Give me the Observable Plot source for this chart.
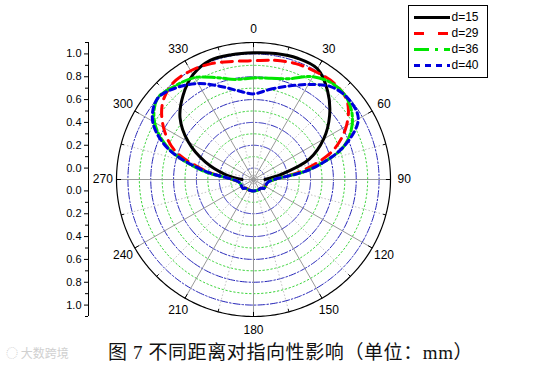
<!DOCTYPE html>
<html>
<head>
<meta charset="utf-8">
<script src="https://cdn.jsdelivr.net/npm/d3@7"></script>
<script src="https://cdn.jsdelivr.net/npm/@observablehq/plot@0.6"></script>
<style>
  html, body { margin: 0; padding: 0; background: #fff; }
  #wrap { position: relative; width: 556px; height: 365px; overflow: hidden; background: #fff; }
  #wrap > div, #wrap > svg { position: absolute; }
  #caption { left: 108px; top: 337px; font-family: "Liberation Serif", "Noto Sans CJK SC", serif; font-size: 19px; letter-spacing: 0.6px; color: #111; white-space: nowrap; }
  #mark { left: 6px; top: 344px; font-family: "Noto Sans CJK SC", sans-serif; font-size: 12px; color: #d0d0d0; white-space: nowrap; }
</style>
</head>
<body>
<div id="wrap"></div>
<script>
// ---- data ----
const angles = [0,10,20,30,40,50,60,70,80,90,100,110,120,130,140,150,160,170,180,190,200,210,220,230,240,250,260,270,280,290,300,310,320,330,340,350];
const d29 = [0.94,0.96,0.98,0.99,1.00,0.97,0.84,0.64,0.33,0.08,0.03,0.02,0.02,0.02,0.00,0.00,0.00,0.00,0.00,0.00,0.00,0.00,0.00,0.02,0.02,0.02,0.03,0.08,0.32,0.63,0.81,0.94,1.00,1.00,0.98,0.95];
const d36 = [0.79,0.80,0.84,0.94,0.99,0.98,0.90,0.74,0.39,0.08,0.03,0.02,0.02,0.02,0.00,0.00,0.00,0.00,0.00,0.00,0.00,0.00,0.00,0.02,0.02,0.02,0.03,0.08,0.36,0.69,0.90,1.00,0.97,0.93,0.85,0.79];
const d40 = [0.65,0.70,0.77,0.86,0.96,0.99,0.96,0.74,0.40,0.08,0.03,0.02,0.02,0.02,0.00,0.00,0.00,0.00,0.00,0.00,0.00,0.00,0.00,0.02,0.02,0.02,0.03,0.08,0.34,0.70,0.92,1.00,0.95,0.87,0.77,0.69];
const d15Angles = [270,280,290,300,310,320,330,340,350,0,10,20,30,40,50,60,70,80,90];
const d15 = [0.00,0.15,0.35,0.56,0.74,0.86,0.96,1.01,1.01,1.01,1.02,1.03,1.02,0.91,0.77,0.61,0.42,0.14,0.00];
const seriesNames = ["d=15","d=29","d=36","d=40"];
const angleLabels = [0,30,60,90,120,150,180,210,240,270,300,330];
const minorSpokes = [15,45,75,105,135,165,195,225,255,285,315,345];
const blueRings = [0,0.2,0.4,0.6,0.8,1.0];
const greenRings = [0.1,0.3,0.5,0.7,0.9];
const radialTicks = [0,0.2,0.4,0.6,0.8,1.0];
const radialMinor = [0.1,0.3,0.5,0.7,0.9,1.1];
const rMin = -0.1, rMax = 1.1;

// ---- helpers (polar via azimuthal projection) ----
const S = 60;
const lat = v => 90 - (v - rMin) * S;
const lon = a => 180 - a;
const circle = v => d3.geoCircle().center([0, 90]).radius((v - rMin) * S).precision(1)();
const rows = (as, vs) => as.map((a, i) => ({lon: lon(a), lat: lat(vs[i])}));

const font = "Liberation Sans, Arial, sans-serif";

const main = Plot.plot({
  width: 556, height: 330,
  marginLeft: 116, marginRight: 166, marginTop: 42, marginBottom: 14,
  style: {fontFamily: font, fontSize: "12px", background: "transparent", overflow: "visible"},
  projection: {type: "azimuthal-equidistant", rotate: [0, -90], domain: circle(rMax), clip: false},
  marks: [
    Plot.geo(greenRings, {geometry: circle, fill: "none", stroke: "#3ad43a", strokeWidth: 1, strokeDasharray: "1.5,2.5"}),
    Plot.geo(blueRings, {geometry: circle, fill: "none", stroke: "#2424b8", strokeWidth: 1, strokeDasharray: "7,2,1.5,2"}),
    Plot.link(minorSpokes, {x1: lon, y1: 90, x2: lon, y2: lat(rMax), stroke: "#c2c2c2", strokeWidth: 1, strokeDasharray: "1.5,2"}),
    Plot.link(angleLabels, {x1: lon, y1: 90, x2: lon, y2: lat(rMax), stroke: "#999", strokeWidth: 1}),
    Plot.geo([rMax], {geometry: circle, fill: "none", stroke: "#000", strokeWidth: 1.2}),
    Plot.link(minorSpokes, {x1: lon, y1: lat(1.075), x2: lon, y2: lat(rMax), stroke: "#000", strokeWidth: 1}),
    Plot.link(angleLabels, {x1: lon, y1: lat(1.06), x2: lon, y2: lat(rMax), stroke: "#000", strokeWidth: 1}),
    Plot.line(rows(d15Angles, d15), {x: "lon", y: "lat", curve: "catmull-rom", stroke: "#000", strokeWidth: 3}),
    Plot.line(rows(angles, d29), {x: "lon", y: "lat", curve: "catmull-rom-closed", stroke: "#ff0000", strokeWidth: 3, strokeDasharray: "11,7"}),
    Plot.line(rows(angles, d36), {x: "lon", y: "lat", curve: "catmull-rom-closed", stroke: "#00e600", strokeWidth: 3, strokeDasharray: "12,3,3,3"}),
    Plot.line(rows(angles, d40), {x: "lon", y: "lat", curve: "catmull-rom-closed", stroke: "#0000dd", strokeWidth: 3, strokeDasharray: "6,4"}),
    Plot.text(angleLabels, {x: lon, y: lat(1.22), text: d => String(d), fill: "#000", fontSize: 12})
  ]
});

const axis = Plot.plot({
  width: 100, height: 330,
  marginLeft: 88, marginRight: 11, marginTop: 42, marginBottom: 14,
  style: {fontFamily: font, fontSize: "11px", background: "transparent", overflow: "visible"},
  x: {domain: [0, 1], axis: null},
  y: {domain: [-(rMax - rMin), rMax - rMin]},
  marks: [
    Plot.ruleX([0], {y1: -(rMax - rMin), y2: rMax - rMin, stroke: "#000", strokeWidth: 1}),
    Plot.axisY([...radialTicks.map(v => v - rMin), ...radialTicks.map(v => -(v - rMin))], {
      tickSize: 4, tickPadding: 3, label: null, fill: "#000",
      tickFormat: p => (Math.abs(p) + rMin).toFixed(1)
    }),
    Plot.axisY([...radialMinor.map(v => v - rMin), ...radialMinor.map(v => -(v - rMin))], {
      tickSize: 3, label: null, tickFormat: () => ""
    })
  ]
});

const legendStyles = {
  "d=15": {stroke: "#000", dash: null},
  "d=29": {stroke: "#ff0000", dash: "10,14"},
  "d=36": {stroke: "#00e600", dash: "15,6,3,6"},
  "d=40": {stroke: "#0000dd", dash: "6,5"}
};
const legend = Plot.plot({
  width: 79, height: 72, margin: 0,
  style: {fontFamily: font, fontSize: "12px", background: "#fff", overflow: "visible"},
  x: {domain: [0, 79], range: [0, 79], axis: null},
  y: {type: "point", domain: seriesNames, range: [12, 60], padding: 0, axis: null},
  marks: [
    Plot.frame({stroke: "#000", strokeWidth: 1}),
    ...seriesNames.map(n => Plot.ruleY([n], {x1: 6, x2: 42, stroke: legendStyles[n].stroke, strokeWidth: 3, strokeDasharray: legendStyles[n].dash})),
    Plot.text(seriesNames, {x: 43, y: d => d, text: d => d, textAnchor: "start", fill: "#000"})
  ]
});

const wrap = document.getElementById("wrap");
main.style.left = "0px"; main.style.top = "0px";
axis.style.left = "0px"; axis.style.top = "0px";
legend.style.left = "408px"; legend.style.top = "5px";
wrap.appendChild(main);
wrap.appendChild(axis);
wrap.appendChild(legend);
const cap = document.createElement("div");
cap.id = "caption";
cap.textContent = "图 7 不同距离对指向性影响（单位：mm）";
wrap.appendChild(cap);
const wm = document.createElement("div");
wm.id = "mark";
wm.textContent = "◌ 大数跨境";
wrap.appendChild(wm);
</script>
</body>
</html>
